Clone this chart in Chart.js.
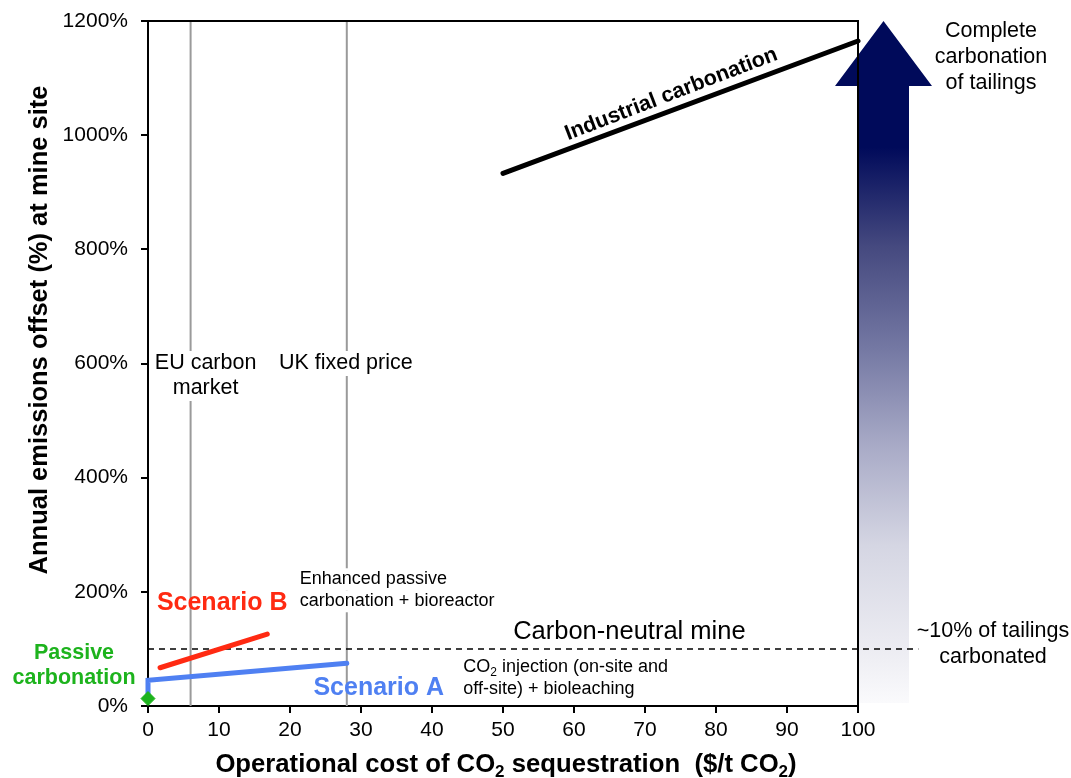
<!DOCTYPE html>
<html>
<head>
<meta charset="utf-8">
<script src="https://cdn.jsdelivr.net/npm/chart.js@4/dist/chart.umd.min.js"></script>
<style>
html,body{margin:0;padding:0;background:#fff;}
#wrap{width:1071px;height:778px;position:relative;}
</style>
</head>
<body>
<div id="wrap"><canvas id="c" width="1071" height="778"></canvas></div>
<script>
// ---- data ----
const passiveX = [0];
const passiveY = [13];
const scenarioAX = [0, 0, 28];
const scenarioAY = [16, 45, 75];
const scenarioBX = [1.7, 16.8];
const scenarioBY = [67, 126];
const industrialX = [50, 100];
const industrialY = [933, 1165];
const carbonNeutralX = [0, 108.5];
const carbonNeutralY = [100, 100];
const euCarbonPrice = 6;
const ukFixedPrice = 28;
const xTickValues = [0,10,20,30,40,50,60,70,80,90,100];
const yTickValues = [0,200,400,600,800,1000,1200];

const pts = (xs, ys) => xs.map((x, i) => ({x: x, y: ys[i]}));
const FONT = "'Liberation Sans', Arial, sans-serif";

const overlay = {
  id: 'overlay',
  beforeDatasetsDraw(chart) {
    const ctx = chart.ctx, xs = chart.scales.x, ys = chart.scales.y;
    // big gradient arrow at right of the plot
    const xr = xs.getPixelForValue(100);
    const bodyL = xr, bodyR = xr + 51, headL = xr - 23, headR = xr + 74;
    const top = ys.getPixelForValue(1200), headBase = top + 65, bottom = ys.getPixelForValue(0) - 3;
    const g = ctx.createLinearGradient(0, top, 0, bottom);
    g.addColorStop(0, '#000a5a');
    g.addColorStop(0.185, '#000a5a');
    g.addColorStop(0.33, '#45497f');
    g.addColorStop(0.48, '#7478a3');
    g.addColorStop(0.625, '#a9abc7');
    g.addColorStop(0.77, '#d5d6e3');
    g.addColorStop(0.92, '#ececf2');
    g.addColorStop(1, '#fafafc');
    ctx.save();
    ctx.fillStyle = g;
    ctx.beginPath();
    ctx.moveTo((headL + headR) / 2, top);
    ctx.lineTo(headR, headBase);
    ctx.lineTo(bodyR, headBase);
    ctx.lineTo(bodyR, bottom);
    ctx.lineTo(bodyL, bottom);
    ctx.lineTo(bodyL, headBase);
    ctx.lineTo(headL, headBase);
    ctx.closePath();
    ctx.fill();
    ctx.restore();
  },
  afterDatasetsDraw(chart) {
    const ctx = chart.ctx, xs = chart.scales.x, ys = chart.scales.y, a = chart.chartArea;
    const X = v => xs.getPixelForValue(v), Y = v => ys.getPixelForValue(v);
    ctx.save();
    // top and right border of plot box
    ctx.strokeStyle = '#000'; ctx.lineWidth = 2;
    ctx.beginPath();
    ctx.moveTo(a.left, a.top); ctx.lineTo(a.right, a.top); ctx.lineTo(a.right, a.bottom);
    ctx.stroke();

    function text(lines, x, y, opt) {
      ctx.save();
      ctx.font = opt.font; ctx.fillStyle = opt.color || '#000';
      ctx.textAlign = opt.align || 'left'; ctx.textBaseline = 'middle';
      const lh = opt.lh || 25;
      lines.forEach((ln, i) => {
        if (opt.bg) {
          const w = ctx.measureText(ln).width;
          let x0 = x; if (ctx.textAlign === 'center') x0 = x - w / 2; else if (ctx.textAlign === 'right') x0 = x - w;
          ctx.fillStyle = '#fff';
          ctx.fillRect(x0 - 2, y + i * lh - lh / 2, w + 4, lh);
          ctx.fillStyle = opt.color || '#000';
        }
        ctx.fillText(ln, x, y + i * lh);
      });
      ctx.restore();
    }
    // vertical line labels
    text(['EU carbon', 'market'], X(euCarbonPrice) + 15, Y(600), {font: '21.5px ' + FONT, align: 'center', bg: true, lh: 25});
    text(['UK fixed price'], X(ukFixedPrice) - 1, Y(600), {font: '21.5px ' + FONT, align: 'center', bg: true});
    text(['Enhanced passive', 'carbonation + bioreactor'], X(ukFixedPrice) - 47, Y(222), {font: '18px ' + FONT, bg: true, lh: 22});
    // CO2 injection text with subscript
    ctx.font = '18px ' + FONT; ctx.fillStyle = '#000'; ctx.textBaseline = 'middle'; ctx.textAlign = 'left';
    let tx = X(44.4), ty = Y(69);
    ctx.fillText('CO', tx, ty); let w = ctx.measureText('CO').width;
    ctx.font = '12px ' + FONT; ctx.fillText('2', tx + w, ty + 6); w += ctx.measureText('2').width;
    ctx.font = '18px ' + FONT; ctx.fillText(' injection (on-site and', tx + w, ty);
    ctx.fillText('off-site) + bioleaching', tx, ty + 22);

    text(['Carbon-neutral mine'], X(67.8), Y(100) - 17, {font: '25.5px ' + FONT, align: 'center'});
    text(['Scenario B'], X(1.25), Y(180), {font: 'bold 25px ' + FONT, color: '#ff2a12'});
    text(['Scenario A'], X(23.3), Y(32), {font: 'bold 25px ' + FONT, color: '#4f80f2'});
    text(['Passive', 'carbonation'], 74, Y(92), {font: 'bold 21.5px ' + FONT, color: '#1db31d', align: 'center', lh: 25});
    text(['Complete', 'carbonation', 'of tailings'], 991, 31, {font: '21.5px ' + FONT, align: 'center', lh: 26});
    text(['~10% of tailings', 'carbonated'], 993, Y(131), {font: '21.5px ' + FONT, align: 'center', lh: 26});

    // rotated label along industrial line
    ctx.save();
    ctx.translate(X(73.7), Y(1063) - 5);
    ctx.rotate(-Math.atan2(Y(industrialY[0]) - Y(industrialY[1]), X(industrialX[1]) - X(industrialX[0])) - 0.01);
    ctx.font = 'bold 21.5px ' + FONT; ctx.fillStyle = '#000'; ctx.textAlign = 'center'; ctx.textBaseline = 'middle';
    ctx.fillText('Industrial carbonation', 0, 0);
    ctx.restore();

    // y axis title
    ctx.save();
    ctx.translate(40, 330); ctx.rotate(-Math.PI / 2);
    ctx.font = 'bold 25.5px ' + FONT; ctx.fillStyle = '#000'; ctx.textAlign = 'center'; ctx.textBaseline = 'middle';
    ctx.fillText('Annual emissions offset (%) at mine site', 0, 0);
    ctx.restore();

    // x axis title with subscripts
    const parts = [['Operational cost of CO', 0], ['2', 1], [' sequestration  ($/t CO', 0], ['2', 1], [')', 0]];
    const big = 'bold 25.7px ', small = 'bold 17px ';
    let total = 0;
    parts.forEach(p => { ctx.font = (p[1] ? small : big) + FONT; total += ctx.measureText(p[0]).width; });
    let px = 506 - total / 2; const py = 765;
    ctx.fillStyle = '#000'; ctx.textAlign = 'left'; ctx.textBaseline = 'middle';
    parts.forEach(p => {
      ctx.font = (p[1] ? small : big) + FONT;
      ctx.fillText(p[0], px, py + (p[1] ? 7 : 0));
      px += ctx.measureText(p[0]).width;
    });
    ctx.restore();
  }
};

new Chart(document.getElementById('c'), {
  type: 'scatter',
  data: {
    datasets: [
      {label: 'EU carbon market', data: pts([euCarbonPrice, euCarbonPrice], [0, 1200]), showLine: true, borderColor: '#9a9a9a', borderWidth: 2, pointRadius: 0, order: 5},
      {label: 'UK fixed price', data: pts([ukFixedPrice, ukFixedPrice], [0, 1200]), showLine: true, borderColor: '#9a9a9a', borderWidth: 2, pointRadius: 0, order: 5},
      {label: 'Carbon-neutral mine', data: pts(carbonNeutralX, carbonNeutralY), showLine: true, borderColor: '#000', borderWidth: 1.5, borderDash: [6, 5], pointRadius: 0, clip: false, order: 4},
      {label: 'Scenario A', data: pts(scenarioAX, scenarioAY), showLine: true, borderColor: '#4f80f2', borderWidth: 5, borderCapStyle: 'round', pointRadius: 0, clip: false, order: 2},
      {label: 'Scenario B', data: pts(scenarioBX, scenarioBY), showLine: true, borderColor: '#ff2a12', borderWidth: 5, borderCapStyle: 'round', pointRadius: 0, order: 2},
      {label: 'Industrial carbonation', data: pts(industrialX, industrialY), showLine: true, borderColor: '#000', borderWidth: 5, borderCapStyle: 'round', pointRadius: 0, clip: false, order: 2},
      {label: 'Passive carbonation', data: pts(passiveX, passiveY), pointStyle: 'rectRot', pointRadius: 7, backgroundColor: '#1db31d', borderColor: '#1db31d', clip: false, order: 1}
    ]
  },
  options: {
    responsive: false,
    animation: false,
    devicePixelRatio: 1,
    layout: {padding: {left: 0, right: 213, top: 21, bottom: 0}},
    plugins: {legend: {display: false}, tooltip: {enabled: false}},
    scales: {
      x: {
        type: 'linear', min: 0, max: 100,
        afterFit: s => { s.height = 72; s.paddingLeft = 0; s.paddingRight = 0; },
        afterBuildTicks: s => { s.ticks = xTickValues.map(v => ({value: v})); },
        ticks: {color: '#000', font: {size: 21, family: FONT}, padding: 5, maxRotation: 0},
        grid: {drawOnChartArea: false, drawTicks: true, tickLength: 7, color: '#000', lineWidth: 2},
        border: {display: true, color: '#000', width: 2}
      },
      y: {
        type: 'linear', min: 0, max: 1200,
        afterFit: s => { s.width = 148; s.paddingTop = 0; s.paddingBottom = 0; },
        afterBuildTicks: s => { s.ticks = yTickValues.map(v => ({value: v})); },
        ticks: {color: '#000', font: {size: 21, family: FONT}, padding: 13, callback: v => v + '%'},
        grid: {drawOnChartArea: false, drawTicks: true, tickLength: 7, color: '#000', lineWidth: 2},
        border: {display: true, color: '#000', width: 2}
      }
    }
  },
  plugins: [overlay]
});
</script>
</body>
</html>
